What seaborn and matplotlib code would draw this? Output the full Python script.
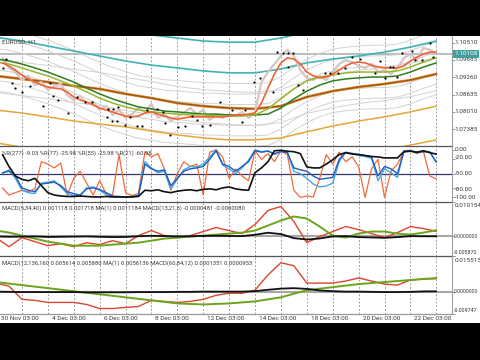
import numpy as np
import matplotlib
matplotlib.use("Agg")
import matplotlib.pyplot as plt
from matplotlib.patches import Rectangle
import seaborn as sns

# ------------------------------------------------------------------ data
symbol_label = "EURUSD, H1"
first_date_label = "30 Nov 03:00"
label_days = [2, 4, 6, 8, 10, 12, 14, 16]
date_labels = ["4 Dec 03:00", "6 Dec 03:00", "8 Dec 03:00", "12 Dec 03:00",
               "14 Dec 03:00", "18 Dec 03:00", "20 Dec 03:00", "22 Dec 03:00"]
grid_days = list(range(1, 18))

# close price, sampled every 6 hours (trading days since 30 Nov 03:00)
close = [1.0996, 1.0960, 1.0945, 1.0916, 1.0931, 1.0898, 1.0909, 1.0880, 1.0895, 1.0902,
         1.0862, 1.0844, 1.0858, 1.0830, 1.0837, 1.0808, 1.0822, 1.0790, 1.0808, 1.0779,
         1.0793, 1.0815, 1.0801, 1.0830, 1.0779, 1.0793, 1.0768, 1.0783, 1.0797, 1.0815,
         1.0793, 1.0808, 1.0772, 1.0790, 1.0779, 1.0793, 1.0786, 1.0801, 1.0779, 1.0801,
         1.0909, 1.0945, 1.0974, 1.1003, 1.1025, 1.1003, 1.0952, 1.0924, 1.0916, 1.0931,
         1.0916, 1.0945, 1.0974, 1.0988, 1.0981, 1.0967, 1.0960, 1.0974, 1.0945, 1.0952,
         1.0938, 1.0960, 1.0996, 1.1010, 1.0988, 1.1032, 1.1025, 1.1011]
ma_short = [1.0978, 1.0967, 1.0952, 1.0934, 1.0920, 1.0909, 1.0898, 1.0891, 1.0887, 1.0884,
            1.0873, 1.0855, 1.0844, 1.0837, 1.0826, 1.0815, 1.0808, 1.0801, 1.0793, 1.0786,
            1.0783, 1.0786, 1.0797, 1.0801, 1.0793, 1.0786, 1.0779, 1.0775, 1.0779, 1.0783,
            1.0783, 1.0783, 1.0783, 1.0783, 1.0783, 1.0786, 1.0790, 1.0790, 1.0793, 1.0797,
            1.0833, 1.0887, 1.0938, 1.0978, 1.0996, 1.0992, 1.0974, 1.0945, 1.0931, 1.0924,
            1.0927, 1.0938, 1.0952, 1.0967, 1.0978, 1.0981, 1.0978, 1.0970, 1.0963, 1.0960,
            1.0960, 1.0960, 1.0967, 1.0985, 1.0999, 1.1010, 1.1017, 1.1017]
# medium MAs, sampled every 12 hours
ma_green_fast = [1.0981, 1.0974, 1.0960, 1.0945, 1.0931, 1.0913, 1.0895, 1.0873, 1.0851, 1.0833,
                 1.0819, 1.0808, 1.0801, 1.0797, 1.0793, 1.0790, 1.0790, 1.0786, 1.0786, 1.0786,
                 1.0790, 1.0812, 1.0848, 1.0884, 1.0913, 1.0927, 1.0934, 1.0942, 1.0945, 1.0945,
                 1.0945, 1.0949, 1.0963, 1.0981, 1.0996]
ma_green_slow = [1.0992, 1.0985, 1.0974, 1.0960, 1.0945, 1.0927, 1.0909, 1.0887, 1.0866, 1.0848,
                 1.0833, 1.0819, 1.0812, 1.0804, 1.0801, 1.0797, 1.0793, 1.0793, 1.0790, 1.0790,
                 1.0790, 1.0793, 1.0815, 1.0848, 1.0876, 1.0898, 1.0913, 1.0920, 1.0924, 1.0927,
                 1.0927, 1.0931, 1.0945, 1.0963, 1.0978]
# long MA and its bands, sampled daily
ma_long = [1.0931, 1.0920, 1.0909, 1.0895, 1.0884, 1.0866, 1.0851, 1.0833, 1.0822, 1.0815,
           1.0812, 1.0822, 1.0855, 1.0876, 1.0891, 1.0902, 1.0916, 1.0938]
band_teal_upper = [1.1180, 1.1165, 1.1147, 1.1129, 1.1111, 1.1093, 1.1079, 1.1068, 1.1057, 1.1053,
                   1.1053, 1.1068, 1.1089, 1.1104, 1.1115, 1.1129, 1.1147, 1.1169]
band_teal = [1.1071, 1.1057, 1.1039, 1.1021, 1.1003, 1.0985, 1.0970, 1.0960, 1.0949, 1.0942,
             1.0942, 1.0956, 1.0978, 1.0992, 1.1003, 1.1017, 1.1035, 1.1057]
band_gold = [1.0808, 1.0797, 1.0783, 1.0768, 1.0757, 1.0747, 1.0732, 1.0718, 1.0707, 1.0700,
             1.0700, 1.0707, 1.0729, 1.0750, 1.0768, 1.0783, 1.0801, 1.0822]
band_gold_lower = [1.0689, 1.0674, 1.0660, 1.0645, 1.0635, 1.0624, 1.0609, 1.0595, 1.0584, 1.0577,
                   1.0577, 1.0584, 1.0606, 1.0627, 1.0645, 1.0663, 1.0681, 1.0700]
envelope_pct = [0.35, 0.70, 1.05]
long_envelope_pct = [0.55]
fractal_days = [0.27, 0.39, 0.62, 0.73, 1.00, 1.31, 1.81, 2.08, 2.20, 2.39, 2.78, 3.13, 3.44, 3.71,
                4.29, 4.32, 4.48, 4.52, 4.67, 4.71, 4.98, 5.17, 5.44, 5.64, 5.83, 6.22, 6.45, 6.53,
                6.72, 7.03, 7.30, 7.57, 7.76, 7.95, 8.26, 8.65, 9.11, 9.50, 9.61, 9.96, 10.19, 10.69,
                10.85, 11.08, 11.27, 11.47, 11.27, 11.66, 11.85, 12.70, 12.90, 13.20, 13.47, 13.75,
                14.05, 14.63, 14.83, 15.02, 15.21, 15.33, 15.48, 15.68, 16.06, 16.18, 16.45, 16.76, 16.87]
fractal_prices = [1.0960, 1.0992, 1.0905, 1.0887, 1.0873, 1.0895, 1.0822, 1.0905, 1.0858, 1.0844,
                  1.0797, 1.0855, 1.0837, 1.0837, 1.0783, 1.0812, 1.0768, 1.0812, 1.0768, 1.0819,
                  1.0754, 1.0783, 1.0750, 1.0750, 1.0808, 1.0812, 1.0801, 1.0761, 1.0718, 1.0747,
                  1.0750, 1.0786, 1.0772, 1.0750, 1.0754, 1.0837, 1.0808, 1.0765, 1.0808, 1.0909,
                  1.0924, 1.0873, 1.1017, 1.1014, 1.1014, 1.1014, 1.0963, 1.0898, 1.0880, 1.0942,
                  1.0942, 1.0942, 1.0960, 1.0999, 1.0992, 1.0942, 1.0985, 1.0924, 1.0963, 1.0963,
                  1.0927, 1.1014, 1.1021, 1.0988, 1.0988, 1.1050, 1.0999]
bid_price = 1.10108
price_ticks = [1.10510, 1.09885, 1.09260, 1.08635, 1.08010, 1.07385]
price_range = (1.06778, 1.10752)

# Williams %R, sampled every 6 hours
wr277 = [-10, -35, -55, -62, -65, -60, -75, -90, -95, -97, -98, -98, -97, -98, -99, -99, -98,
         -99, -99, -99, -99, -98, -85, -86, -84, -88, -90, -87, -85, -84, -86, -83, -82, -84,
         -80, -78, -82, -84, -85, -48, -38, -25, -2, -1, -3, -4, -8, -36, -38, -38, -30, -21,
         -10, -6, -9, -10, -12, -14, -15, -17, -17, -17, -4, -3, -5, -2, -6, -9]
wr77 = [-48, -45, -55, -80, -85, -88, -72, -70, -68, -75, -88, -92, -95, -82, -80, -83, -90,
        -97, -98, -99, -98, -96, -30, -40, -45, -42, -75, -60, -45, -40, -38, -35, -20, -2,
        -30, -35, -45, -35, -25, -2, -5, -3, -8, -4, -6, -38, -42, -45, -55, -62, -60, -58,
        -20, -6, -8, -10, -12, -15, -55, -35, -40, -50, -3, -2, -6, -4, -5, -26]
wr55 = [-50, -42, -60, -85, -90, -92, -70, -68, -65, -78, -92, -96, -97, -80, -78, -85, -94,
        -99, -99, -100, -99, -97, -25, -38, -48, -45, -82, -62, -42, -35, -36, -30, -15, 0,
        -32, -40, -50, -38, -22, 0, -4, -2, -10, -3, -5, -45, -50, -60, -72, -78, -76, -70,
        -25, -5, -7, -12, -14, -18, -65, -40, -48, -58, -2, -1, -5, -3, -4, -26]
wr21 = [-80, -95, -90, -85, -88, -82, -25, -30, -38, -28, -95, -60, -45, -70, -95, -65, -92,
        -95, -10, -90, -96, -92, -4, -15, -8, -40, -85, -50, -25, -35, -30, -95, -5, 0, -15,
        -60, -40, -55, -65, -2, -20, -8, -25, -2, -10, -85, -100, -97, -99, -60, -10, -30, -5,
        -25, -15, -35, -100, -40, -20, -100, -45, -30, -5, -2, -8, -3, -55, -61]
wr_ticks = [0, -20, -50, -80, -100]
wr_labels = ["0.00", "-20.00", "-50.00", "-80.00", "-100.00"]
wr_text = "%R(277) -9.03 %R(77) -25.98 %R(55) -25.98 %R(21) -60.98"

# MACD panel 1, sampled every 12 hours
macd1_main = [-0.00045, -0.00312, -0.00045, -0.00163, -0.00282, -0.00223, -0.00312, -0.00193,
              -0.00252, -0.00134, -0.00223, 0.00015, 0.00163, 0.00015, -0.00045, 0.00015, 0.00134,
              0.00252, 0.00163, 0.00074, 0.00341, 0.00757, 0.00875, 0.00430, -0.00193, -0.00015,
              0.00134, 0.00282, 0.00193, 0.00074, -0.00045, 0.00104, 0.00282, 0.00223, 0.00140]
macd1_signal = [0.00163, 0.00104, 0.00015, -0.00074, -0.00163, -0.00223, -0.00282, -0.00282,
                -0.00282, -0.00252, -0.00223, -0.00193, -0.00134, -0.00074, -0.00045, -0.00015,
                0.00015, 0.00045, 0.00074, 0.00104, 0.00163, 0.00312, 0.00460, 0.00579, 0.00519,
                0.00282, 0.00015, -0.00045, 0.00074, 0.00134, 0.00134, 0.00074, 0.00045, 0.00104,
                0.00172]
macd1_second = [-0.00010, -0.00020, -0.00015, -0.00010, -0.00025, -0.00020, -0.00015, -0.00010,
                -0.00020, -0.00030, -0.00025, -0.00005, 0.00010, 0.00000, -0.00010, -0.00005,
                0.00005, 0.00010, 0.00005, 0.00000, 0.00040, 0.00100, 0.00060, -0.00060, -0.00100,
                -0.00070, -0.00010, 0.00000, -0.00030, -0.00040, -0.00050, -0.00030, 0.00000,
                -0.00005, -0.00005]
macd1_range = (-0.005870, 0.010154)
macd1_text = "MACD(5,34,40) 0.001118 0.001718 MA(1) 0.0011184 MACD(13,21,3) -0.0000481 -0.0000080"

# MACD panel 2
macd2_main = [0.00372, 0.00239, -0.00337, -0.00381, -0.00470, -0.00470, -0.00470, -0.00559,
              -0.00736, -0.00736, -0.00691, -0.00647, -0.00381, -0.00426, -0.00470, -0.00426,
              -0.00337, -0.00160, -0.00071, -0.00071, 0.00062, 0.00727, 0.01259, 0.01126, 0.00372,
              0.00372, 0.00372, 0.00461, 0.00594, 0.00461, 0.00328, 0.00284, 0.00505, 0.00550,
              0.00561]
macd2_signal = [0.00417, 0.00284, 0.00151, 0.00018, -0.00115, -0.00248, -0.00381, -0.00514,
                -0.00559, -0.00514, -0.00426, -0.00248, 0.00062, 0.00195, 0.00328, 0.00417,
                0.00505, 0.00594]
macd2_second = [0.0, -0.0001, -0.0002, -0.0002, -0.0002, -0.0002, -0.0002, -0.0003, -0.0003,
                -0.0003, -0.0003, -0.0002, -0.0002, -0.0002, -0.0001, -0.0001, 0.0, 0.0, 0.0, 0.0,
                0.0002, 0.0008, 0.0013, 0.0015, 0.0012, 0.0005, 0.0002, 0.0, 0.0, -0.0001, -0.0002,
                -0.0002, -0.0001, 0.0001, 0.00014]
macd2_range = (-0.009747, 0.015515)
macd2_text = "MACD(12,136,160 0.005614 0.005880 MA(1) 0.0056136 MACD(60,84,12) 0.0001351 0.0000953"

# time axes (trading days since 30 Nov 03:00)
t6 = np.arange(1, len(close) + 1) * 0.25
t12 = np.arange(0, len(ma_green_fast)) * 0.5
t24 = np.arange(0, len(ma_long)) * 1.0

# ------------------------------------------------------------------ style
sns.set_style("white")
plt.rcParams["font.family"] = ["Roboto", "DejaVu Sans"]

W, H = 480, 360
fig = plt.figure(figsize=(4.8, 3.6), dpi=100, facecolor="black")
fig.patches.append(Rectangle((0, (H - 323) / H), 1, (323 - 36) / H,
                             transform=fig.transFigure, facecolor="white",
                             edgecolor="none", zorder=-10))

XMIN, XMAX = 4 / 25.9, 456 / 25.9
right = 452 / W


def make_axes(top_px, bottom_px):
    ax = fig.add_axes([0, (H - bottom_px) / H, right, (bottom_px - top_px) / H])
    ax.set_zorder(5)
    return ax


ax_p = make_axes(36, 146)
ax_w = make_axes(146, 201.7)
ax_m1 = make_axes(201.7, 256)
ax_m2 = make_axes(256, 314)

TXT = "#3a3a3a"
FS = 4.6


def base(ax, ylim, ticks):
    ax.set_facecolor("none")
    ax.patch.set_alpha(0)
    ax.set_xlim(XMIN, XMAX)
    ax.set_ylim(*ylim)
    ax.yaxis.tick_right()
    ax.set_yticks(ticks)
    ax.set_yticklabels([])
    ax.set_xticks(label_days)
    ax.set_xticklabels([])
    ax.tick_params(axis="y", length=2.5, width=0.6, color="#8a8a8a")
    ax.tick_params(axis="x", length=0)
    for s in ("top", "left"):
        ax.spines[s].set_visible(False)
    ax.spines["right"].set_color("#a0a0a0")
    ax.spines["right"].set_linewidth(0.8)
    ax.spines["bottom"].set_color("#555555")
    ax.spines["bottom"].set_linewidth(0.9)
    for d in grid_days:
        ax.axvline(d, color="#8c8c8c", lw=0.6, dashes=(2.2, 2.2), zorder=1)


def ylab(ax, v, text, dy=0, fs=FS, dx=2.5):
    ax.annotate(text, xy=(1, v), xycoords=("axes fraction", "data"),
                xytext=(dx, dy), textcoords="offset pixels", ha="left",
                va="center", fontsize=fs, color=TXT, annotation_clip=False)


def line(ax, x, y, color, lw, z=3):
    sns.lineplot(x=x, y=y, ax=ax, color=color, linewidth=lw, zorder=z,
                 estimator=None, sort=False, legend=False)


# ---------------- price panel
base(ax_p, price_range, price_ticks)
for v in price_ticks:
    ylab(ax_p, v, f"{v:.5f}")
ax_p.axhline(bid_price, color="#aab4b8", lw=1.2, zorder=1.5)
gs = np.array(ma_green_slow)
for p in envelope_pct:
    for sgn in (1, -1):
        line(ax_p, t12, gs * (1 + sgn * p / 100), "#d2d2d2", 0.7, z=1.6)
ml = np.array(ma_long)
for p in long_envelope_pct:
    for sgn in (1, -1):
        line(ax_p, t24, ml * (1 + sgn * p / 100), "#d2d2d2", 0.7, z=1.6)
line(ax_p, t24, band_teal_upper, "#3fb3b3", 1.2, z=2)
line(ax_p, t24, band_teal, "#3fb3b3", 1.2, z=2)
line(ax_p, t24, band_gold, "#e4a636", 1.1, z=2)
line(ax_p, t24, band_gold_lower, "#e4a636", 1.1, z=2)
line(ax_p, t24, ma_long, "#e8953a", 2.0, z=2.5)
line(ax_p, t24, ma_long, "#9a5516", 1.0, z=2.6)
line(ax_p, t6, close, "#d7c4c4", 1.6, z=3)
line(ax_p, t12, ma_green_slow, "#2e7d1e", 1.1, z=4)
line(ax_p, t12, ma_green_fast, "#96b82c", 1.1, z=4)
line(ax_p, t6, ma_short, "#ee6336", 1.2, z=5)
sns.scatterplot(x=fractal_days, y=fractal_prices, ax=ax_p, color="black", s=2.5,
                linewidth=0, zorder=6, legend=False)
ax_p.annotate(symbol_label, xy=(0, 1), xycoords="axes fraction", xytext=(2, -6),
              textcoords="offset pixels", ha="left", va="center", fontsize=FS,
              color=TXT)
ax_p.annotate(f"{bid_price:.5f}", xy=(1, bid_price), xycoords=("axes fraction", "data"),
              xytext=(2.5, 0), textcoords="offset pixels", ha="left", va="center",
              fontsize=FS, color="white", annotation_clip=False, zorder=10,
              bbox=dict(boxstyle="square,pad=0.2", facecolor="#3f9e9e",
                        edgecolor="none"))

# ---------------- Williams %R panel
base(ax_w, (-109, 8), wr_ticks)
offs = {0: 0, -20: 1.5, -50: 0, -80: -2, -100: 0}
for v, t in zip(wr_ticks, wr_labels):
    ylab(ax_w, v, t, dy=offs[v])
ax_w.axhline(-50, color="#34346e", lw=0.9, zorder=1.5)
line(ax_w, t6, wr21, "#ee6a3c", 0.9, z=3)
line(ax_w, t6, wr55, "#47a6e2", 1.0, z=3.2)
line(ax_w, t6, wr77, "#1f5cc0", 1.0, z=3.3)
line(ax_w, t6, wr277, "#111111", 1.2, z=3.5)
ax_w.annotate(wr_text, xy=(0, 1), xycoords="axes fraction", xytext=(2, -7),
              textcoords="offset pixels", ha="left", va="center", fontsize=FS - 0.4,
              color=TXT, zorder=10)

# ---------------- MACD panel 1
base(ax_m1, macd1_range, [macd1_range[1], 0.0, macd1_range[0]])
ylab(ax_m1, macd1_range[1], "0.010154", dy=-3.5)
ylab(ax_m1, 0.0, "0.0000000", fs=3.7, dx=2)
ylab(ax_m1, macd1_range[0], "-0.005870", dy=3, fs=3.9, dx=2)
ax_m1.axhline(0, color="#a8a8a8", lw=1.5, zorder=1.5)
line(ax_m1, t12, macd1_main, "#e0452a", 1.0, z=3)
line(ax_m1, t12, macd1_signal, "#6aa51e", 1.4, z=3.2)
line(ax_m1, t12, macd1_second, "#111111", 1.3, z=3.4)
ax_m1.annotate(macd1_text, xy=(0, 1), xycoords="axes fraction", xytext=(2, -6),
               textcoords="offset pixels", ha="left", va="center", fontsize=FS - 0.4,
               color=TXT, zorder=10)

# ---------------- MACD panel 2
base(ax_m2, macd2_range, [macd2_range[1], 0.0, macd2_range[0]])
ylab(ax_m2, macd2_range[1], "0.015515", dy=-4)
ylab(ax_m2, 0.0, "0.0000000", fs=3.7, dx=2)
ylab(ax_m2, macd2_range[0], "-0.009747", dy=3, fs=3.9, dx=2)
ax_m2.axhline(0, color="#a8a8a8", lw=1.5, zorder=1.5)
line(ax_m2, t12, macd2_main, "#d9472c", 1.0, z=3)
line(ax_m2, t24, macd2_signal, "#6aa51e", 1.4, z=3.2)
line(ax_m2, t12, macd2_second, "#111111", 1.3, z=3.4)
ax_m2.annotate(macd2_text, xy=(0, 1), xycoords="axes fraction", xytext=(2, -7),
               textcoords="offset pixels", ha="left", va="center", fontsize=FS - 0.4,
               color=TXT, zorder=10)
ax_m2.spines["bottom"].set_color("#9a9a9a")
ax_m2.tick_params(axis="x", length=2.5, width=0.6, color="#8a8a8a")
for d, lab in zip(label_days, date_labels):
    ax_m2.annotate(lab, xy=(d, 0), xycoords=("data", "axes fraction"), xytext=(4, -2),
                   textcoords="offset pixels", ha="left", va="top", fontsize=FS,
                   color=TXT, annotation_clip=False)
ax_m2.annotate(first_date_label, xy=(0, 0), xycoords="axes fraction", xytext=(1, -2),
               textcoords="offset pixels", ha="left", va="top", fontsize=FS,
               color=TXT, annotation_clip=False)

fig.savefig("out.png", dpi=100, facecolor=fig.get_facecolor())
